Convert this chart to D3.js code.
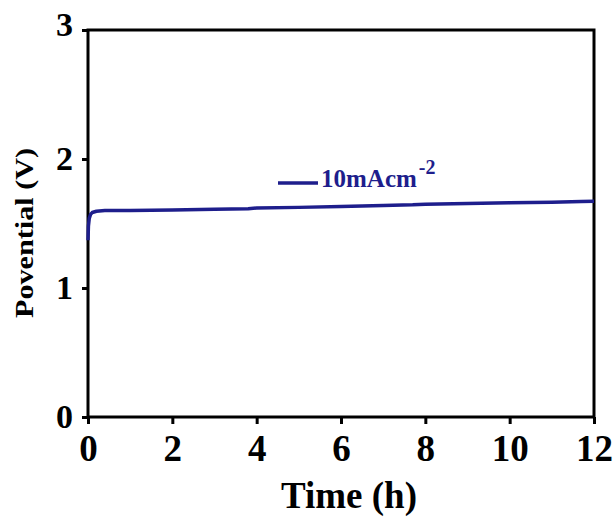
<!DOCTYPE html>
<html><head><meta charset="utf-8">
<script src="https://cdn.jsdelivr.net/npm/d3@7"></script>
<style>body{margin:0;background:#fff}svg{display:block}</style>
</head><body>
<script>
const timeH = [0, 0.01, 0.03, 0.06, 0.1, 0.2, 0.4, 1, 2, 3, 3.8, 4, 5, 6, 7, 7.7, 8, 9, 10, 11, 11.7, 12];
const potentialV = [1.37, 1.48, 1.54, 1.57, 1.585, 1.595, 1.60, 1.60, 1.605, 1.61, 1.615, 1.62, 1.625, 1.632, 1.64, 1.645, 1.65, 1.655, 1.66, 1.665, 1.67, 1.672];
const xTicks = [0, 2, 4, 6, 8, 10, 12];
const yTicks = [0, 1, 2, 3];
const legendLabel = "10mAcm";
const legendSup = "-2";

const W = 616, H = 523;
const m = {left: 88, right: 22, top: 30, bottom: 106};
const svg = d3.select("body").append("svg").attr("width", W).attr("height", H);
const x = d3.scaleLinear().domain([0, 12]).range([m.left, W - m.right]);
const y = d3.scaleLinear().domain([0, 3]).range([H - m.bottom, m.top]);
const font = "'Liberation Serif','Times New Roman',serif";
const navy = "#1e1e8c";

// frame
svg.append("rect").attr("x", x(0)).attr("y", y(3)).attr("width", x(12) - x(0)).attr("height", y(0) - y(3))
  .attr("fill", "none").attr("stroke", "#000").attr("stroke-width", 3);

// x axis
const gx = svg.append("g").attr("transform", `translate(0,${y(0)})`);
gx.call(d3.axisBottom(x).tickValues(d3.range(0, 13, 1)).tickSize(5).tickFormat(""));
gx.call(d3.axisBottom(x).tickValues(xTicks).tickSize(7).tickPadding(11).tickFormat(d3.format("d")));
gx.selectAll(".domain").remove();
gx.selectAll("line").attr("stroke", "#000").attr("stroke-width", 3);
gx.selectAll("text").attr("font-family", font).attr("font-weight", "bold").attr("font-size", 37).attr("fill", "#000");

// y axis
const gy = svg.append("g").attr("transform", `translate(${x(0)},0)`);
gy.call(d3.axisLeft(y).tickValues(d3.range(0, 3.01, 0.5)).tickSize(4).tickFormat(""));
gy.call(d3.axisLeft(y).tickValues(yTicks).tickSize(6).tickPadding(9).tickFormat(d3.format("d")));
gy.selectAll(".domain").remove();
gy.selectAll("line").attr("stroke", "#000").attr("stroke-width", 3);
gy.selectAll("text").attr("font-family", font).attr("font-weight", "bold").attr("font-size", 34).attr("fill", "#000");
gy.selectAll(".tick text").filter(d => d === 3).attr("dy", "0.15em");

// line
const line = d3.line().x((d, i) => x(timeH[i])).y(d => y(d));
svg.append("path").datum(potentialV).attr("d", line).attr("fill", "none")
  .attr("stroke", navy).attr("stroke-width", 3.5).attr("stroke-linejoin", "round");

// legend
svg.append("line").attr("x1", 278).attr("x2", 318).attr("y1", 183).attr("y2", 183)
  .attr("stroke", navy).attr("stroke-width", 3.5);
const lt = svg.append("text").attr("x", 321).attr("y", 187).attr("font-family", font)
  .attr("font-weight", "bold").attr("font-size", 25).attr("fill", navy).text(legendLabel);
lt.append("tspan").attr("dx", 2).attr("dy", -13).attr("font-size", 20).text(legendSup);

// axis titles
svg.append("text").attr("x", 349).attr("y", 508).attr("text-anchor", "middle")
  .attr("font-family", font).attr("font-weight", "bold").attr("font-size", 37).text("Time (h)");
svg.append("text").attr("transform", `translate(33,233) rotate(-90)`)
  .attr("text-anchor", "middle").attr("font-family", font).attr("font-weight", "bold")
  .attr("font-size", 26).attr("textLength", 170).attr("lengthAdjust", "spacingAndGlyphs")
  .text("Povential (V)");
</script>
</body></html>
